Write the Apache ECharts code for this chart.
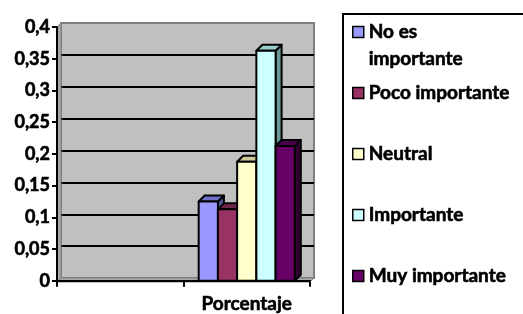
<!DOCTYPE html>
<html><head><meta charset="utf-8">
<script src="https://cdn.jsdelivr.net/npm/echarts@6/dist/echarts.min.js"></script>
<style>html,body{margin:0;padding:0;background:#fff}#c{width:523px;height:314px}</style>
</head><body><div id="c"></div>
<script>
// ---- data ----
const categories = ['', 'Porcentaje'];
const seriesNames = ['No es importante', 'Poco importante', 'Neutral', 'Importante', 'Muy importante'];
const noEsImportante = [null, 0.125];
const pocoImportante = [null, 0.1125];
const neutral = [null, 0.1875];
const importante = [null, 0.3625];
const muyImportante = [null, 0.2125];
const yTickLabels = ['0', '0,05', '0,1', '0,15', '0,2', '0,25', '0,3', '0,35', '0,4'];

const seriesValues = [noEsImportante, pocoImportante, neutral, importante, muyImportante];
const frontColors = ['#9999FF', '#993366', '#FFFFCC', '#CCFFFF', '#660066'];
const topColors   = ['#6F6FCC', '#70254A', '#CCCC99', '#99CCCC', '#4A004A'];
const sideColors  = ['#55559A', '#551C38', '#A3A37A', '#6A9999', '#330033'];

const FONT = 'Lato, "Liberation Sans", Arial, sans-serif';
const WEIGHT = 'bold';
const heavy = {textBorderColor: '#000', textBorderWidth: 0.6};
const chart = echarts.init(document.getElementById('c'), null, {renderer: 'canvas'});

function makeRender(idx) {
  return function (params, api) {
    const v = api.value(1);
    if (v == null || isNaN(v)) return;
    const cat = api.value(0);
    const base = api.coord([cat, 0]);
    const top = api.coord([cat, v]);
    const band = api.size([1, 0])[0];
    const groupW = band * 0.76;
    const w = groupW / 5;
    const x0 = base[0] - groupW / 2 + idx * w;
    const x1 = x0 + w;
    const y0 = base[1];
    const y1 = top[1];
    const d = 6;
    const stroke = {stroke: '#000', lineWidth: 2, lineJoin: 'round'};
    return {
      type: 'group',
      children: [
        {type: 'polygon', shape: {points: [[x1, y1], [x1 + d, y1 - d], [x1 + d, y0 - d], [x1, y0]]},
         style: Object.assign({fill: sideColors[idx]}, stroke)},
        {type: 'polygon', shape: {points: [[x0, y1], [x0 + d, y1 - d], [x1 + d, y1 - d], [x1, y1]]},
         style: Object.assign({fill: topColors[idx]}, stroke)},
        {type: 'rect', shape: {x: x0, y: y1, width: w, height: y0 - y1},
         style: Object.assign({fill: frontColors[idx]}, stroke)}
      ]
    };
  };
}

const series = seriesNames.map((name, i) => ({
  name: name,
  type: 'custom',
  xAxisIndex: 1,
  yAxisIndex: 1,
  z: 5,
  itemStyle: {color: frontColors[i]},
  renderItem: makeRender(i),
  encode: {x: 0, y: 1},
  data: seriesValues[i].map((v, j) => [j, v])
}));

const legendText = Object.assign({fontFamily: FONT, fontWeight: WEIGHT, fontSize: 19, color: '#000'}, heavy);

chart.setOption({
  animation: false,
  backgroundColor: '#fff',
  graphic: [
    {type: 'rect', z: 0, shape: {x: 343, y: 14, width: 200, height: 320},
     style: {fill: '#fff', stroke: '#000', lineWidth: 2}},
    {type: 'polygon', z: 1, shape: {points: [[57, 27], [61, 23], [61, 278], [57, 282]]},
     style: {fill: '#A8A8A8', stroke: '#808080', lineWidth: 1}},
    {type: 'polygon', z: 1, shape: {points: [[57, 282], [61, 278], [314, 278], [310, 282]]},
     style: {fill: '#A8A8A8', stroke: '#808080', lineWidth: 1}}
  ],
  grid: [
    {left: 61, top: 23, width: 253, height: 255, show: true, backgroundColor: '#C0C0C0',
     borderColor: '#808080', borderWidth: 2, z: 0},
    {left: 57, top: 27, width: 253, height: 255, show: false}
  ],
  xAxis: [
    {gridIndex: 0, type: 'category', data: categories, show: false},
    {gridIndex: 1, type: 'category', data: categories, z: 6,
     axisLine: {show: true, lineStyle: {color: '#000', width: 2}},
     axisTick: {show: true, length: 6, lineStyle: {color: '#000', width: 2}},
     axisLabel: Object.assign({fontFamily: FONT, fontWeight: WEIGHT, fontSize: 19, color: '#000', margin: 14}, heavy),
     splitLine: {show: false}}
  ],
  yAxis: [
    {gridIndex: 0, type: 'value', min: 0, max: 0.4, interval: 0.05,
     axisLine: {show: false}, axisTick: {show: false}, axisLabel: {show: false},
     splitLine: {show: true, showMinLine: false, showMaxLine: false, lineStyle: {color: '#000', width: 2}}},
    {gridIndex: 1, type: 'value', min: 0, max: 0.4, interval: 0.05, z: 6,
     axisLine: {show: true, lineStyle: {color: '#000', width: 2}},
     axisTick: {show: true, length: 5, lineStyle: {color: '#000', width: 2}},
     axisLabel: Object.assign({fontFamily: FONT, fontWeight: WEIGHT, fontSize: 18, color: '#000', margin: 7,
       formatter: v => yTickLabels[Math.round(v / 0.05)]}, heavy),
     splitLine: {show: false}}
  ],
  legend: [
    {left: 352, top: -8.5, orient: 'vertical', icon: 'rect', itemWidth: 11, itemHeight: 11, itemGap: 0,
     padding: 0, selectedMode: false,
     itemStyle: {borderColor: '#000', borderWidth: 1.5},
     textStyle: Object.assign({lineHeight: 27}, legendText),
     formatter: n => n === 'No es importante' ? '\nNo es\nimportante' : n,
     data: [seriesNames[0]]},
    {left: 352, top: 83, orient: 'vertical', icon: 'rect', itemWidth: 11, itemHeight: 11, itemGap: 41,
     padding: 0, selectedMode: false,
     itemStyle: {borderColor: '#000', borderWidth: 1.5},
     textStyle: Object.assign({lineHeight: 20}, legendText),
     data: seriesNames.slice(1)}
  ],
  series: series
});
</script></body></html>
